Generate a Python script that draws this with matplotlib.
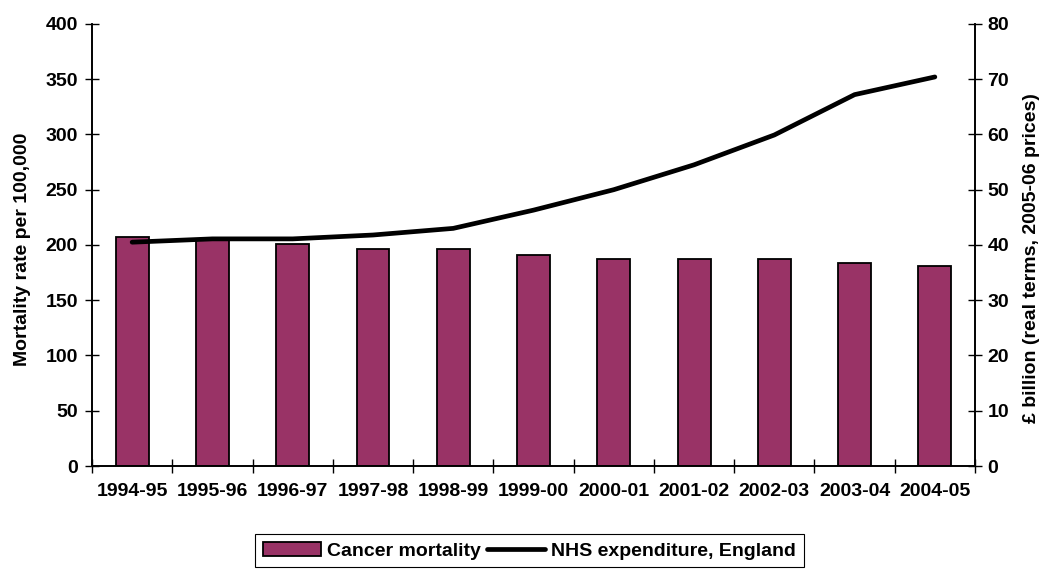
import matplotlib
matplotlib.use("Agg")
import matplotlib.pyplot as plt
import numpy as np

years = ["1994-95", "1995-96", "1996-97", "1997-98", "1998-99", "1999-00",
         "2000-01", "2001-02", "2002-03", "2003-04", "2004-05"]
cancer_mortality = [207, 205, 201, 196, 196, 191, 187, 187, 187, 184, 181]
nhs_expenditure = [40.5, 41.1, 41.1, 41.8, 43.0, 46.3, 50.0, 54.5, 59.9, 67.2, 70.4]

plt.rcParams['font.family'] = ['Liberation Sans', 'DejaVu Sans']
plt.rcParams['font.weight'] = 'bold'

FS = 14

fig = plt.figure(figsize=(10.42, 5.69), dpi=100)
ax = fig.add_axes([0.0883, 0.181, 0.8474, 0.777])
ax2 = ax.twinx()

x = np.arange(len(years))
bars = ax.bar(x, cancer_mortality, width=0.41, color='#993366',
              edgecolor='black', linewidth=1.3, label='Cancer mortality', zorder=2)
line, = ax2.plot(x, nhs_expenditure, color='black', linewidth=3.4,
                 solid_capstyle='round', label='NHS expenditure, England', zorder=3)

ax.set_xlim(-0.5, len(years) - 0.5)
ax.set_ylim(0, 400)
ax.set_yticks(np.arange(0, 401, 50))
ax2.set_ylim(0, 80)
ax2.set_yticks(np.arange(0, 81, 10))

ax.set_xticks(x)
ax.set_xticklabels(years, fontsize=FS, fontweight='bold')
ax.set_xticks(np.arange(-0.5, len(years) + 0.5, 1), minor=True)
ax.tick_params(axis='x', which='major', length=0, pad=12)
ax.tick_params(axis='x', which='minor', length=10, width=1, direction='inout')
ax.tick_params(axis='y', length=10, width=1, direction='inout', labelsize=FS, pad=5)
ax2.tick_params(axis='y', length=10, width=1, direction='inout', labelsize=FS, pad=4)
for lab in ax.get_yticklabels() + ax2.get_yticklabels():
    lab.set_fontweight('bold')

for a in (ax, ax2):
    a.spines['top'].set_visible(False)
    for s in ('left', 'right', 'bottom'):
        a.spines[s].set_linewidth(1.2)

ax.set_ylabel('Mortality rate per 100,000', fontsize=FS, fontweight='bold')
ax.yaxis.set_label_coords(-0.069, 0.49)
ax2.set_ylabel('£ billion (real terms, 2005-06 prices)', fontsize=FS,
               fontweight='bold', rotation=90)
ax2.yaxis.set_label_coords(1.054, 0.47)

ax2.set_zorder(ax.get_zorder() + 1)
ax2.patch.set_visible(False)

leg = fig.legend([bars, line], ['Cancer mortality', 'NHS expenditure, England'],
                 loc='lower center', bbox_to_anchor=(0.508, 0.003), ncol=2,
                 frameon=True, fancybox=False, edgecolor='black', framealpha=1,
                 prop={'weight': 'bold', 'size': FS}, handlelength=3.0,
                 handleheight=0.75, columnspacing=0.3, handletextpad=0.3,
                 borderpad=0.4, borderaxespad=0)
leg.get_frame().set_linewidth(0.8)

fig.savefig('out.png', dpi=100)
